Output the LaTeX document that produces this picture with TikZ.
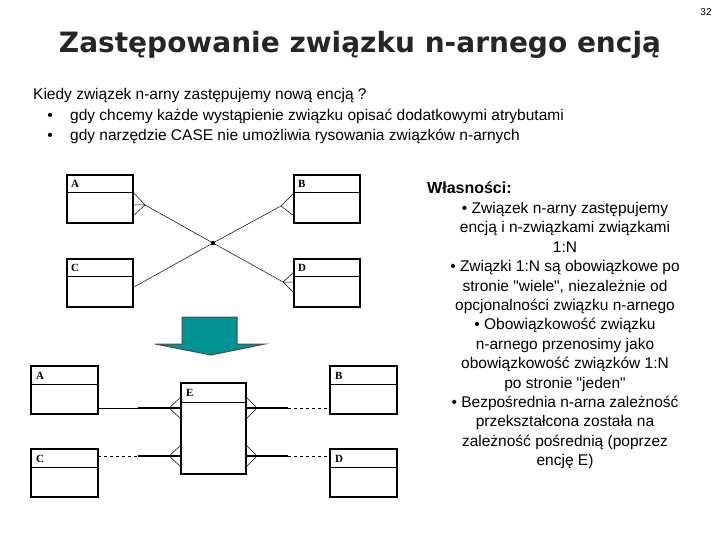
\documentclass[tikz,border=0pt]{standalone}
\usepackage{fontspec}
\setmainfont{Liberation Sans}[Ligatures=TeXOff]
\newfontfamily\titlef{DejaVu Sans}
\newfontfamily\boxf{Liberation Serif}
\begin{document}
\begin{tikzpicture}[x=1pt,y=-1pt,
  ent/.style={draw,line width=1.3pt},
  thin/.style={line width=0.5pt},
  thick2/.style={line width=1.5pt},
  lab/.style={font=\boxf\bfseries\fontsize{11}{11}\selectfont,anchor=north west,inner sep=0pt},
  body/.style={font=\fontsize{15.5}{17}\selectfont,inner sep=0pt},
  rt/.style={body,anchor=base}]
\useasboundingbox (0,0) rectangle (720,540);
% page number and title
\node[font=\fontsize{10}{10}\selectfont,anchor=base] (pn) at (706,16) {32};
\node[font=\titlef\bfseries\fontsize{28}{30}\selectfont,text=black!85,anchor=base] (title) at (360,53) {Zastępowanie związku n-arnego encją};
\node[body,anchor=base west] (q) at (33,100) {Kiedy związek n-arny zastępujemy nową encją ?};
\node[body,anchor=base] (b1) at (50,121) {•};
\node[body,anchor=base west] (l1) at (70,121) {gdy chcemy każde wystąpienie związku opisać dodatkowymi atrybutami};
\node[body,anchor=base] (b2) at (50,141) {•};
\node[body,anchor=base west] (l2) at (70,141) {gdy narzędzie CASE nie umożliwia rysowania związków n-arnych};
% top diagram
\foreach \n/\x/\y in {A/67/175,B/294/175,C/67/259,D/294/259}{
  \draw[ent] (\x,\y) rectangle ++(66,48);
  \draw[thin] (\x,\y+17) -- ++(66,0);
  \node[lab] (t\n) at (\x+4,\y+5) {\n};
}
\coordinate (m) at (213,243);
\fill (m) circle (2.2pt);
\coordinate (aa) at (145,205);
\draw[thin] (m) -- (aa) (133,192) -- (aa) -- (133,216) (aa) -- (133,205);
\coordinate (ab) at (281,206);
\draw[thin] (m) -- (ab) (294,193) -- (ab) -- (294,216);
\coordinate (ac) at (134,287);
\draw[thin] (m) -- (ac);
\coordinate (ad) at (283,282);
\draw[thin] (m) -- (ad) (294,272) -- (ad) -- (294,293) (ad) -- (294,282);
% arrow
\draw[fill=teal!85!cyan,draw=black!70,line width=1pt] (182,317) -- (237,317) -- (237,344) -- (265,344) -- (211,355) -- (155,344) -- (182,344) -- cycle;
% bottom diagram
\foreach \n/\x/\y in {A/31/366,B/330/366,C/31/449,D/330/449}{
  \draw[ent] (\x,\y) rectangle ++(67,48);
  \draw[thin] (\x,\y+18) -- ++(67,0);
  \node[lab] (u\n) at (\x+5,\y+6) {\n};
}
\draw[ent] (181,383) rectangle (246,474);
\draw[thin] (181,402) -- (246,402);
\node[lab] (uE) at (186,389) {E};
\foreach \y in {408,456}{
  \draw[thick2] (138,\y) -- (181,\y);
  \draw[thin] (181,\y-11) -- (169,\y) -- (181,\y+11);
  \draw[thick2] (246,\y) -- (288,\y);
  \draw[thin] (246,\y-11) -- (257,\y) -- (246,\y+11);
  \draw[thin,dashed] (288,\y) -- (330,\y);
}
\draw[thin] (98,408) -- (138,408);
\draw[thin,dashed] (98,456) -- (138,456);
% right text
\node[body,font=\bfseries\fontsize{16}{17}\selectfont,anchor=base west] (w) at (427,194) {Własności:};
\foreach \t [count=\i] in {{• Związek n-arny zastępujemy},{encją i n-związkami związkami},{1:N},{• Związki 1:N są obowiązkowe po},{stronie "wiele", niezależnie od},{opcjonalności związku n-arnego},{• Obowiązkowość związku},{n-arnego przenosimy jako},{obowiązkowość związków 1:N},{po stronie "jeden"},{• Bezpośrednia n-arna zależność},{przekształcona została na},{zależność pośrednią (poprzez},{encję E)}}
  \node[rt] (r\i) at (565,{194+\i*19.4}) {\t};
\end{tikzpicture}
\end{document}
